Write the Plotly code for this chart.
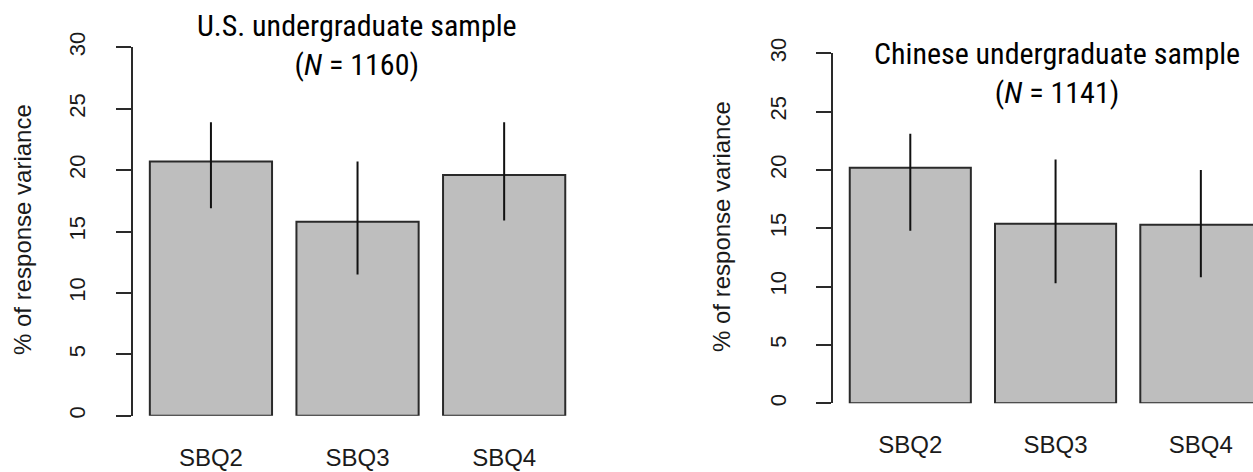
import plotly.graph_objects as go

# ---- data ----
categories = ["SBQ2", "SBQ3", "SBQ4"]
us_values = [20.7, 15.8, 19.6]
us_upper = [23.9, 20.7, 23.9]
us_lower = [16.9, 11.5, 15.9]
cn_values = [20.2, 15.4, 15.3]
cn_upper = [23.1, 20.9, 20.0]
cn_lower = [14.8, 10.3, 10.8]
us_title = "U.S. undergraduate sample<br>(<i>N</i> = 1160)"
cn_title = "Chinese undergraduate sample<br>(<i>N</i> = 1141)"
y_title = "% of response variance"
y_ticks = [0, 5, 10, 15, 20, 25, 30]

W, H = 1253, 472
BAR_FILL = "#bebebe"
DARK = "#2a2a2a"
TEXT = "#1a1a1a"
NARROW = "Liberation Sans Narrow, Arial Narrow, Roboto Condensed, sans-serif"
SANS = "Liberation Sans, Arial, sans-serif"


def px_x(p):
    return p / W


def px_y(p):
    return 1 - p / H


def bar_trace(vals, up, lo, xa, ya):
    return go.Bar(
        x=categories, y=vals, xaxis=xa, yaxis=ya,
        width=0.8336,
        marker=dict(color=BAR_FILL, line=dict(color=DARK, width=2)),
        error_y=dict(type="data", symmetric=False,
                     array=[u - v for u, v in zip(up, vals)],
                     arrayminus=[v - l for v, l in zip(vals, lo)],
                     width=0, thickness=2, color="#111111"),
        showlegend=False, hoverinfo="skip",
    )


fig = go.Figure()
fig.add_trace(bar_trace(us_values, us_upper, us_lower, "x", "y"))
fig.add_trace(bar_trace(cn_values, cn_upper, cn_lower, "x2", "y2"))

yax = dict(range=[0, 30], tickvals=y_ticks, ticktext=[str(t) for t in y_ticks],
           ticks="outside", ticklen=15, tickwidth=2, tickcolor=DARK,
           showline=True, linewidth=2, linecolor=DARK, showgrid=False,
           zeroline=False, tickangle=-90, ticklabelstandoff=22, automargin=False,
           tickfont=dict(family=SANS, size=22, color=TEXT))
xax = dict(type="category", showline=False, showgrid=False, zeroline=False,
           ticks="", ticklabelstandoff=25, automargin=False,
           tickfont=dict(family=SANS, size=24, color=TEXT))

fig.update_layout(
    width=W, height=H, autosize=False,
    margin=dict(l=0, r=0, t=0, b=0, autoexpand=False),
    paper_bgcolor="white", plot_bgcolor="white",
    xaxis=dict(xax, domain=[px_x(132.5), px_x(582)], range=[-0.535, 2.531], anchor="y"),
    yaxis=dict(yax, domain=[px_y(415.7), px_y(47.3)], anchor="x"),
    xaxis2=dict(xax, domain=[px_x(833.3), 1.0], range=[-0.530, 2.359], anchor="y2"),
    yaxis2=dict(yax, domain=[px_y(403.3), px_y(53.3)], anchor="x2"),
    annotations=[
        dict(text=us_title, x=px_x(357), y=px_y(45), xref="paper", yref="paper",
             xanchor="center", yanchor="middle", showarrow=False,
             font=dict(family=NARROW, size=30, color="black")),
        dict(text=cn_title, x=px_x(1057), y=px_y(73), xref="paper", yref="paper",
             xanchor="center", yanchor="middle", showarrow=False,
             font=dict(family=NARROW, size=30, color="black")),
        dict(text=y_title, x=px_x(22), y=px_y(230), xref="paper", yref="paper",
             xanchor="center", yanchor="middle", textangle=-90, showarrow=False,
             font=dict(family=SANS, size=24, color=TEXT)),
        dict(text=y_title, x=px_x(722), y=px_y(227), xref="paper", yref="paper",
             xanchor="center", yanchor="middle", textangle=-90, showarrow=False,
             font=dict(family=SANS, size=24, color=TEXT)),
    ],
)

fig.write_html("out.html", config={"displayModeBar": False},
               post_script="document.body.style.margin='0';")
